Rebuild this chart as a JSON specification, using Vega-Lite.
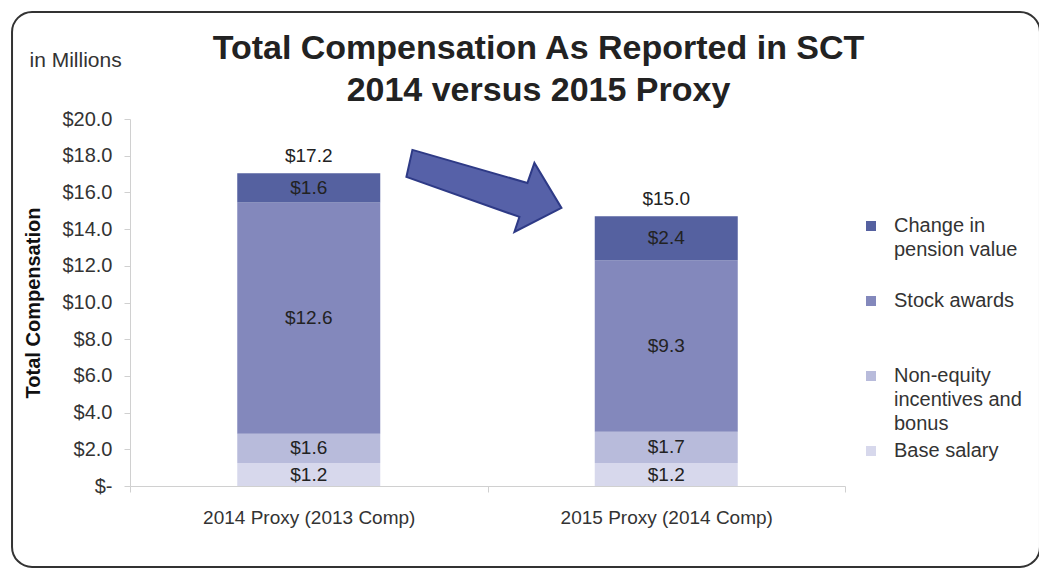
{
  "$schema": "https://vega.github.io/schema/vega-lite/v6.json",
  "width": 715,
  "height": 367,
  "autosize": {"type": "none"},
  "padding": {"left": 130, "top": 119, "right": 194, "bottom": 83},
  "background": "white",
  "config": {
    "font": "Liberation Sans",
    "view": {"stroke": null},
    "style": {"guide-label": {"lineHeight": 24}}
  },
  "title": {
    "text": ["Total Compensation As Reported in SCT", "2014 versus 2015 Proxy"],
    "fontSize": 34,
    "fontWeight": "bold",
    "color": "#222222",
    "anchor": "middle",
    "frame": "group",
    "lineHeight": 42,
    "offset": -97,
    "dx": 51
  },
  "datasets": {
    "segments": [
      {"proxy": "2014 Proxy (2013 Comp)", "component": "Base salary", "ord": 1, "value": 1.25, "label": "$1.2"},
      {"proxy": "2014 Proxy (2013 Comp)", "component": "Non-equity incentives and bonus", "ord": 2, "value": 1.6, "label": "$1.6"},
      {"proxy": "2014 Proxy (2013 Comp)", "component": "Stock awards", "ord": 3, "value": 12.6, "label": "$12.6"},
      {"proxy": "2014 Proxy (2013 Comp)", "component": "Change in pension value", "ord": 4, "value": 1.6, "label": "$1.6"},
      {"proxy": "2015 Proxy (2014 Comp)", "component": "Base salary", "ord": 1, "value": 1.25, "label": "$1.2"},
      {"proxy": "2015 Proxy (2014 Comp)", "component": "Non-equity incentives and bonus", "ord": 2, "value": 1.7, "label": "$1.7"},
      {"proxy": "2015 Proxy (2014 Comp)", "component": "Stock awards", "ord": 3, "value": 9.35, "label": "$9.3"},
      {"proxy": "2015 Proxy (2014 Comp)", "component": "Change in pension value", "ord": 4, "value": 2.4, "label": "$2.4"}
    ],
    "totals": [
      {"proxy": "2014 Proxy (2013 Comp)", "value": 17.05, "label": "$17.2"},
      {"proxy": "2015 Proxy (2014 Comp)", "value": 14.7, "label": "$15.0"}
    ],
    "arrow": [
      {"pos": 0.495, "value": 16.08}
    ],
    "frame": [
      {"pos": -0.165, "pos2": 1.2727, "value": -4.41, "value2": 25.83}
    ]
  },
  "layer": [
    {
      "layer": [
        {
          "data": {"name": "segments"},
          "mark": {"type": "bar", "width": {"band": 0.4}},
          "encoding": {
            "x": {
              "field": "proxy", "type": "nominal", "sort": null,
              "scale": {"paddingInner": 0, "paddingOuter": 0},
              "axis": {
                "title": null, "labelAngle": 0, "labelFontSize": 19, "labelColor": "#333333",
                "labelPadding": 16, "labelLimit": 400, "domainColor": "#d0d0d0", "tickColor": "#d0d0d0",
                "tickBand": "extent", "tickSize": 6, "grid": false
              }
            },
            "y": {
              "field": "value", "type": "quantitative", "stack": "zero",
              "scale": {"domain": [0, 20], "nice": false},
              "axis": {
                "title": "Total Compensation", "titleFontSize": 20, "titleFontWeight": "bold",
                "titleColor": "#111111", "titlePadding": 18,
                "values": [0, 2, 4, 6, 8, 10, 12, 14, 16, 18, 20],
                "labelOverlap": false,
                "labelExpr": "datum.value == 0 ? '$-' : '$' + format(datum.value, '.1f')",
                "labelFontSize": 20, "labelColor": "#333333", "labelPadding": 12,
                "tickColor": "#d0d0d0", "tickSize": 6, "domainColor": "#d0d0d0", "grid": false
              }
            },
            "color": {
              "field": "component", "type": "nominal",
              "scale": {
                "domain": ["Change in pension value", "Stock awards", "Non-equity incentives and bonus", "Base salary"],
                "range": ["#5561a0", "#8388bc", "#b8bbdb", "#d7d8ec"]
              },
              "legend": {
                "title": null, "orient": "none", "legendX": 731, "legendY": 97,
                "symbolType": "square", "symbolSize": 100, "symbolStrokeWidth": 0,
                "labelFontSize": 20, "labelColor": "#333333", "labelLimit": 300, "labelOffset": 13,
                "rowPadding": 7,
                "labelExpr": "datum.label == 'Change in pension value' ? ['Change in', 'pension value', ''] : datum.label == 'Non-equity incentives and bonus' ? ['Non-equity', 'incentives and', 'bonus'] : datum.label == 'Stock awards' ? ['Stock awards', '', ''] : datum.label"
              }
            },
            "order": {"field": "ord", "type": "quantitative"}
          }
        },
        {
          "data": {"name": "segments"},
          "mark": {"type": "text", "fontSize": 19, "color": "#222222"},
          "encoding": {
            "x": {"field": "proxy", "type": "nominal", "sort": null},
            "y": {
              "field": "value", "type": "quantitative", "stack": "zero", "bandPosition": 0.5,
              "axis": {
                "title": "Total Compensation", "titleFontSize": 20, "titleFontWeight": "bold",
                "titleColor": "#111111", "titlePadding": 18,
                "values": [0, 2, 4, 6, 8, 10, 12, 14, 16, 18, 20],
                "labelOverlap": false,
                "labelExpr": "datum.value == 0 ? '$-' : '$' + format(datum.value, '.1f')",
                "labelFontSize": 20, "labelColor": "#333333", "labelPadding": 12,
                "tickColor": "#d0d0d0", "tickSize": 6, "domainColor": "#d0d0d0", "grid": false
              }
            },
            "text": {"field": "label"},
            "order": {"field": "ord", "type": "quantitative"}
          }
        },
        {
          "data": {"name": "totals"},
          "mark": {"type": "text", "fontSize": 19, "color": "#222222", "baseline": "bottom", "dy": -7},
          "encoding": {
            "x": {"field": "proxy", "type": "nominal", "sort": null},
            "y": {
              "field": "value", "type": "quantitative",
              "axis": {
                "title": "Total Compensation", "titleFontSize": 20, "titleFontWeight": "bold",
                "titleColor": "#111111", "titlePadding": 18,
                "values": [0, 2, 4, 6, 8, 10, 12, 14, 16, 18, 20],
                "labelOverlap": false,
                "labelExpr": "datum.value == 0 ? '$-' : '$' + format(datum.value, '.1f')",
                "labelFontSize": 20, "labelColor": "#333333", "labelPadding": 12,
                "tickColor": "#d0d0d0", "tickSize": 6, "domainColor": "#d0d0d0", "grid": false
              }
            },
            "text": {"field": "label"}
          }
        }
      ]
    },
    {
      "layer": [
        {
          "data": {"name": "frame"},
          "mark": {"type": "rect", "cornerRadius": 20, "fill": "transparent", "stroke": "#333333", "strokeWidth": 2},
          "encoding": {
            "x": {"field": "pos", "type": "quantitative", "scale": {"domain": [0, 1], "nice": false, "zero": false}},
            "x2": {"field": "pos2"},
            "y": {
              "field": "value", "type": "quantitative",
              "axis": {
                "title": "Total Compensation", "titleFontSize": 20, "titleFontWeight": "bold",
                "titleColor": "#111111", "titlePadding": 18,
                "values": [0, 2, 4, 6, 8, 10, 12, 14, 16, 18, 20],
                "labelOverlap": false,
                "labelExpr": "datum.value == 0 ? '$-' : '$' + format(datum.value, '.1f')",
                "labelFontSize": 20, "labelColor": "#333333", "labelPadding": 12,
                "tickColor": "#d0d0d0", "tickSize": 6, "domainColor": "#d0d0d0", "grid": false
              }
            },
            "y2": {"field": "value2"}
          }
        },
        {
          "data": {"name": "arrow"},
          "mark": {
            "type": "point",
            "shape": "M-0.894,-0.513L0.544,-0.1L0.631,-0.35L0.969,0.2125L0.381,0.513L0.444,0.325L-0.969,-0.175Z",
            "filled": true, "fill": "#5661a8", "stroke": "#2e3a86", "strokeWidth": 2,
            "size": 25600, "opacity": 1
          },
          "encoding": {
            "x": {
              "field": "pos", "type": "quantitative", "scale": {"domain": [0, 1], "nice": false, "zero": false},
              "axis": {
                "orient": "top", "title": "in Millions", "labels": false, "ticks": false,
                "domain": false, "grid": false, "titleFontSize": 21, "titleFontWeight": "normal",
                "titleColor": "#333333", "titleAlign": "left", "titleBaseline": "middle",
                "titleAnchor": "start", "titleX": -101, "titleY": -59, "titleAngle": 0
              }
            },
            "y": {
              "field": "value", "type": "quantitative",
              "axis": {
                "title": "Total Compensation", "titleFontSize": 20, "titleFontWeight": "bold",
                "titleColor": "#111111", "titlePadding": 18,
                "values": [0, 2, 4, 6, 8, 10, 12, 14, 16, 18, 20],
                "labelOverlap": false,
                "labelExpr": "datum.value == 0 ? '$-' : '$' + format(datum.value, '.1f')",
                "labelFontSize": 20, "labelColor": "#333333", "labelPadding": 12,
                "tickColor": "#d0d0d0", "tickSize": 6, "domainColor": "#d0d0d0", "grid": false
              }
            }
          }
        }
      ]
    }
  ],
  "resolve": {"scale": {"x": "independent"}, "axis": {"x": "independent"}}
}
